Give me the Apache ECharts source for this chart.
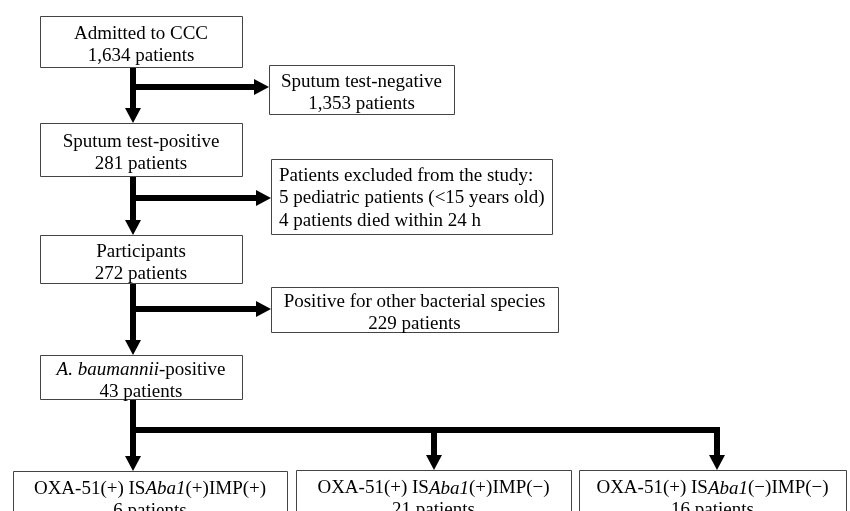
<!DOCTYPE html>
<html>
<head>
<meta charset="utf-8">
<script src="https://cdn.jsdelivr.net/npm/echarts@6/dist/echarts.min.js"></script>
<style>
html,body{margin:0;padding:0;background:#fff;}
#chart{width:850px;height:511px;}
</style>
</head>
<body>
<div id="chart"></div>
<script>
// ---- Data: flowchart node texts ----
const nodeTitles = [
  'Admitted to CCC',
  'Sputum test-negative',
  'Sputum test-positive',
  'Patients excluded from the study:',
  'Participants',
  'Positive for other bacterial species',
  '{i|A. baumannii}-positive',
  'OXA-51(+) IS{i|Aba1}(+)IMP(+)',
  'OXA-51(+) IS{i|Aba1}(+)IMP(\u2212)',
  'OXA-51(+) IS{i|Aba1}(\u2212)IMP(\u2212)'
];
const nodeCounts = ['1,634', '1,353', '281', null, '272', '229', '43', '6', '21', '16'];
const excludedLines = [
  '5 pediatric patients (<15 years old)',
  '4 patients died within 24 h'
];

// ---- Layout (axis units = pixels) ----
const boxLayout = [
  [40, 16, 242, 67],
  [269, 65, 454, 114],
  [40, 123, 242, 176],
  [271, 159, 552, 234],
  [40, 235, 242, 283],
  [271, 287, 558, 332],
  [40, 355, 242, 399],
  [13, 471, 287, 521],
  [296, 470, 571, 521],
  [579, 470, 846, 521]
];
const boxAlign = ['center','center','center','left','center','center','center','center','center','center'];

const connectors = [
  [[133, 67], [133, 123]],
  [[133, 87], [269, 87]],
  [[133, 176], [133, 235]],
  [[133, 198], [271, 198]],
  [[133, 283], [133, 355]],
  [[133, 309], [271, 309]],
  [[133, 399], [133, 471]],
  [[133, 430], [717, 430], [717, 470]],
  [[434, 430], [434, 470]]
];

const FONT = '"Liberation Serif", "Times New Roman", Times, serif';
const rich = {
  n: { fontFamily: FONT, fontSize: 19, lineHeight: 22, fill: '#000' },
  i: { fontFamily: FONT, fontSize: 19, lineHeight: 22, fontStyle: 'italic', fill: '#000' }
};
const richLeft = {
  n: { fontFamily: FONT, fontSize: 19, lineHeight: 22.5, fill: '#000' },
  i: { fontFamily: FONT, fontSize: 19, lineHeight: 22.5, fontStyle: 'italic', fill: '#000' }
};

function wrapPlain(s) {
  const parts = s.split(/(\{i\|[^}]*\})/);
  return parts.filter(p => p.length).map(p => p.startsWith('{i|') ? p : '{n|' + p + '}').join('');
}
function nodeText(i) {
  const lines = [nodeTitles[i]];
  if (nodeCounts[i] !== null) lines.push(nodeCounts[i] + ' patients');
  else excludedLines.forEach(l => lines.push(l));
  return lines.map(wrapPlain).join('\n');
}

const boxData = boxLayout.map((b, i) => [b[0], b[1], b[2], b[3], i]);
const connData = connectors.map((c, i) => [c[0][0], c[0][1], i]);

const chart = echarts.init(document.getElementById('chart'), null, { renderer: 'canvas' });
chart.setOption({
  animation: false,
  backgroundColor: '#fff',
  grid: { left: 0, right: 0, top: 0, bottom: 0 },
  xAxis: { type: 'value', min: 0, max: 850, show: false },
  yAxis: { type: 'value', min: 0, max: 511, inverse: true, show: false },
  series: [
    {
      type: 'custom',
      coordinateSystem: 'cartesian2d',
      clip: false,
      z: 2,
      data: connData,
      renderItem: function (params, api) {
        const idx = api.value(2);
        const pts = connectors[idx].map(p => api.coord(p));
        const n = pts.length;
        const end = pts[n - 1], prev = pts[n - 2];
        const dx = end[0] - prev[0], dy = end[1] - prev[1];
        const len = Math.sqrt(dx * dx + dy * dy);
        const ux = dx / len, uy = dy / len;
        const headLen = 15, headHalf = 8;
        const base = [end[0] - ux * headLen, end[1] - uy * headLen];
        const linePts = pts.slice(0, n - 1).concat([[base[0] + ux, base[1] + uy]]);
        const head = [
          end,
          [base[0] - uy * headHalf, base[1] + ux * headHalf],
          [base[0] + uy * headHalf, base[1] - ux * headHalf]
        ];
        return {
          type: 'group',
          children: [
            { type: 'polyline', shape: { points: linePts }, style: { stroke: '#000', lineWidth: 6, fill: null, lineJoin: 'miter', lineCap: 'butt' } },
            { type: 'polygon', shape: { points: head }, style: { fill: '#000', stroke: null } }
          ]
        };
      }
    },
    {
      type: 'custom',
      coordinateSystem: 'cartesian2d',
      clip: false,
      z: 3,
      data: boxData,
      renderItem: function (params, api) {
        const idx = api.value(4);
        const p1 = api.coord([api.value(0), api.value(1)]);
        const p2 = api.coord([api.value(2), api.value(3)]);
        const x = Math.round(p1[0]) + 0.5, y = Math.round(p1[1]) + 0.5;
        const w = Math.round(p2[0] - p1[0]), h = Math.round(p2[1] - p1[1]);
        const left = boxAlign[idx] === 'left';
        const cy = (p1[1] + p2[1]) / 2 + (left ? 2 : 4);
        return {
          type: 'group',
          children: [
            { type: 'rect', shape: { x: x, y: y, width: w, height: h }, style: { fill: '#fff', stroke: '#444', lineWidth: 1 } },
            {
              type: 'text',
              x: left ? p1[0] + 8 : (p1[0] + p2[0]) / 2,
              y: cy,
              style: {
                text: nodeText(idx),
                rich: left ? richLeft : rich,
                align: left ? 'left' : 'center',
                verticalAlign: 'middle',
                fontFamily: FONT,
                fontSize: 19,
                fill: '#000'
              }
            }
          ]
        };
      }
    }
  ]
});
</script>
</body>
</html>
